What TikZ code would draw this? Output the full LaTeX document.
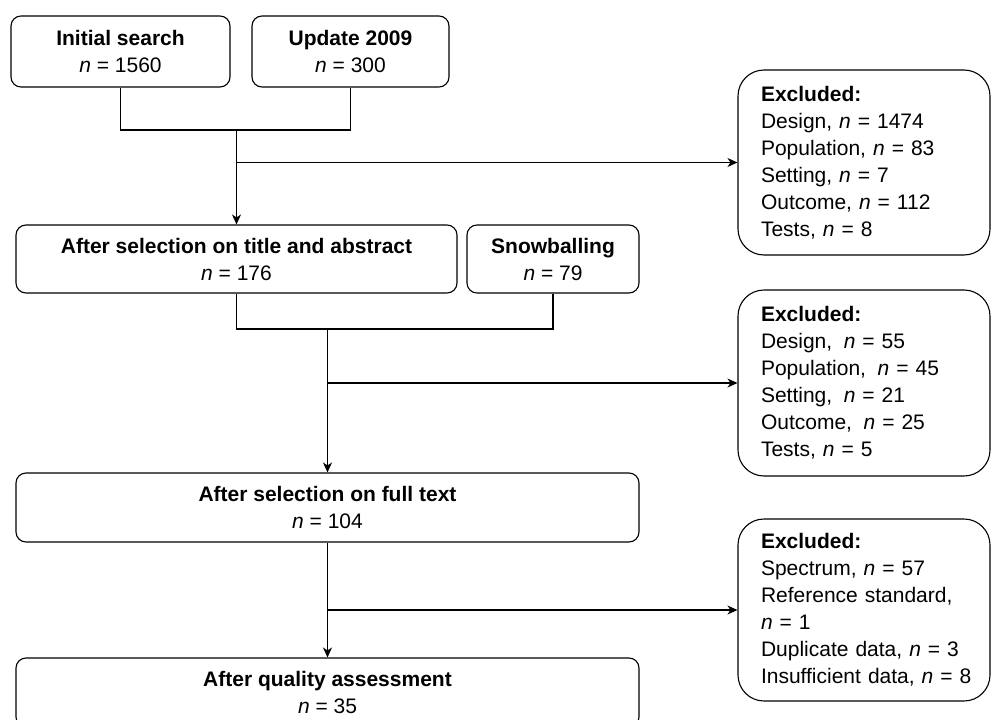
\documentclass[tikz,border=0pt]{standalone}
\usepackage{fontspec}
\setmainfont{Liberation Sans}
\usetikzlibrary{arrows.meta,calc}
\begin{document}
\begin{tikzpicture}[x=1pt,y=-1pt,
  box/.style={draw, line width=1.1pt, rounded corners=10pt, align=center, inner sep=0pt,
    font=\fontsize{21}{27}\selectfont},
  exbox/.style={draw, line width=1.1pt, rounded corners=26pt, align=left, text width=206pt,
    inner xsep=23pt, inner ysep=0pt, minimum width=252pt, font=\fontsize{21}{27}\selectfont},
  conn/.style={line width=1.1pt},
  arr/.style={conn, -{Stealth[length=10pt,width=9pt,inset=3pt]}}]
\useasboundingbox (0,0) rectangle (991,720);
\clip (0,0) rectangle (991,720);

\node[box, minimum width=219pt, minimum height=71pt] (init) at (120.5,51.5)
  {\textbf{Initial search}\\\textit{n} = 1560};
\node[box, minimum width=197pt, minimum height=71pt] (upd) at (350.5,51.5)
  {\textbf{Update 2009}\\\textit{n} = 300};
\node[box, minimum width=441pt, minimum height=68pt] (after) at (236.5,259)
  {\textbf{After selection on title and abstract}\\\textit{n} = 176};
\node[box, minimum width=172pt, minimum height=68pt] (snow) at (553,259)
  {\textbf{Snowballing}\\\textit{n} = 79};
\node[box, minimum width=623pt, minimum height=69pt] (full) at (327.5,507.5)
  {\textbf{After selection on full text}\\\textit{n} = 104};
\node[box, minimum width=623pt, minimum height=69pt] (qual) at (327.5,692.5)
  {\textbf{After quality assessment}\\\textit{n} = 35};

\node[exbox, minimum height=185pt] (ex1) at (864,162.5)
  {\textbf{Excluded:}\\Design, \textit{n} = 1474\\Population, \textit{n} = 83\\Setting, \textit{n} = 7\\Outcome, \textit{n} = 112\\Tests, \textit{n} = 8};
\node[exbox, minimum height=186pt] (ex2) at (864,383)
  {\textbf{Excluded:}\\Design,\hspace{0.55em}\textit{n} = 55\\Population,\hspace{0.55em}\textit{n} = 45\\Setting,\hspace{0.55em}\textit{n} = 21\\Outcome,\hspace{0.55em}\textit{n} = 25\\Tests, \textit{n} = 5};
\node[exbox, minimum height=182pt] (ex3) at (864,610)
  {\textbf{Excluded:}\\Spectrum, \textit{n} = 57\\Reference standard,\\\textit{n} = 1\\Duplicate data, \textit{n} = 3\\\mbox{Insufficient data, \textit{n} = 8}};

\coordinate (y1) at (0,130);
\coordinate (j1) at (after.north |- y1);
\coordinate (y2) at (0,329);
\coordinate (j2) at (full.north |- y2);

\draw[conn] (init.south) |- (j1) -| (upd.south);
\draw[arr] (j1) -- (after.north);
\draw[arr] (j1 |- ex1.west) -- (ex1.west);

\draw[conn] (after.south) |- (j2) -| (snow.south);
\draw[arr] (j2) -- (full.north);
\draw[arr] (j2 |- ex2.west) -- (ex2.west);

\draw[arr] (full.south) -- (qual.north);
\draw[arr] (full.south |- ex3.west) -- (ex3.west);
\end{tikzpicture}
\end{document}
